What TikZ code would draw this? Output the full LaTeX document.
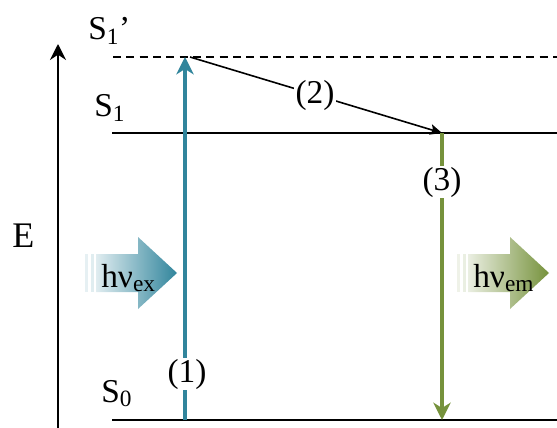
\documentclass[tikz,border=0pt]{standalone}
\usepackage{fontspec}
\setmainfont{Liberation Serif}
\usepackage{xcolor}
\usetikzlibrary{arrows.meta,positioning,calc}
\definecolor{exblue}{RGB}{49,133,156}
\definecolor{emgreen}{RGB}{118,146,60}

\begin{document}
\begin{tikzpicture}[
    x=0.75pt, y=-0.75pt,
    level/.style={line width=1.5pt},
    lbl/.style={font=\fontsize{25}{30}\selectfont, inner sep=0pt},
    num/.style={font=\fontsize{25}{30}\selectfont, fill=white, inner sep=1pt},
    trans/.style={line width=3pt, -{Stealth[length=13pt, width=13pt, inset=4pt]}},
    arr/.style={line width=1.2pt, -{Stealth[length=9pt, width=8pt, inset=2pt]}},
]
\useasboundingbox (0,0) rectangle (557,428);

% Energy axis
\coordinate (eBot) at (58,428);
\coordinate (eTop) at (58,44);
\draw[level, -{Stealth[length=12pt, width=12pt, inset=4pt]}] (eBot) -- (eTop);
\node[lbl, font=\fontsize{27}{32}\selectfont, anchor=base west] (E) at (12,247) {E};

% Levels
\coordinate (s1pL) at (113,57);  \coordinate (s1pR) at (557,57);
\coordinate (s1L) at (112,133);  \coordinate (s1R) at (557,133);
\coordinate (s0L) at (112,420);  \coordinate (s0R) at (557,420);
\draw[level, dash pattern=on 6pt off 4pt] (s1pL) -- (s1pR);
\draw[level] (s1L) -- (s1R);
\draw[level] (s0L) -- (s0R);
\node[lbl, anchor=base west] (S1p) at (88,40) {S\textsubscript{1}’};
\node[lbl, anchor=base west] (S1) at (94,117) {S\textsubscript{1}};
\node[lbl, anchor=base west] (S0) at (101,402) {S\textsubscript{0}};

% Transitions
\coordinate (exBot) at (185,420);
\coordinate (exTop) at (185,57);
\coordinate (relTop) at (190,57);
\coordinate (emTop) at (442,133);
\coordinate (emBot) at (442,420);
\draw[trans, exblue] (exBot) -- (exTop);
\draw[arr] (relTop) -- (emTop);
\draw[trans, emgreen] (emTop) -- (emBot);
\node[num] (n1) at (187,374) {(1)};
\node[num] (n2) at (315,95) {(2)};
\node[num] (n3) at (442,182) {(3)};

% Photon in
\fill[exblue!12] (85,254) rectangle (88,292);
\fill[exblue!15] (90.5,254) rectangle (94,292);
\shade[left color=exblue!15, right color=exblue]
  (96,254) -- (138,254) -- (138,237) -- (177,273) -- (138,309) -- (138,292) -- (96,292) -- cycle;
\node[lbl, anchor=base west] (hvex) at (101,287) {hν\textsubscript{ex}};

% Photon out
\fill[emgreen!12] (457,254) rectangle (460,292);
\fill[emgreen!15] (462.5,254) rectangle (466,292);
\shade[left color=emgreen!15, right color=emgreen]
  (468,254) -- (510,254) -- (510,237) -- (549,273) -- (510,309) -- (510,292) -- (468,292) -- cycle;
\node[lbl, anchor=base west] (hvem) at (473,287) {hν\textsubscript{em}};
\end{tikzpicture}
\end{document}
